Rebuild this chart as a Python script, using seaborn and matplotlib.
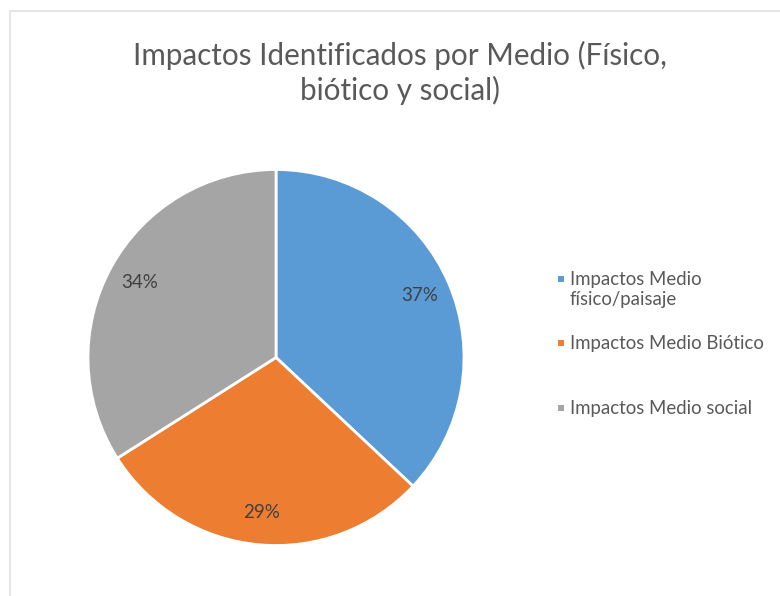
import matplotlib
matplotlib.use("Agg")
import matplotlib.pyplot as plt
from matplotlib.lines import Line2D
from matplotlib.patches import Rectangle
import seaborn as sns

# Data
categories = ["Impactos Medio\nfísico/paisaje", "Impactos Medio Biótico", "Impactos Medio social"]
shares = [37, 29, 34]
colors = ["#5B9BD5", "#ED7D31", "#A5A5A5"]
title = "Impactos Identificados por Medio (Físico,\nbiótico y social)"

sns.set_theme(style="white")
plt.rcParams["font.family"] = ["Lato", "DejaVu Sans"]

W, H = 780, 596
fig = plt.figure(figsize=(W / 100, H / 100), dpi=100)
fig.patch.set_facecolor("white")

# Pie area: centre (276, 357.5) px, radius 188 px
cx, cy, r = 276, 357.5, 188
ax = fig.add_axes([(cx - r) / W, (H - cy - r) / H, 2 * r / W, 2 * r / H])
wedges, _, autotexts = ax.pie(
    shares,
    colors=colors,
    startangle=90,
    counterclock=False,
    autopct=lambda p: f"{p:.0f}%",
    pctdistance=0.83,
    wedgeprops=dict(edgecolor="white", linewidth=2),
    textprops=dict(color="#404040", fontsize=13.5),
)
ax.set_xlim(-1, 1)
ax.set_ylim(-1, 1)
ax.set_aspect("equal")
ax.axis("off")

# Title
fig.text(400 / W, 1 - 73 / H, title, ha="center", va="center",
         fontsize=21.3, color="#595959", linespacing=1.22)

# Legend
legend_y = [279, 343, 408]
for lab, col, y in zip(categories, colors, legend_y):
    fig.add_artist(Rectangle(((561 - 3) / W, 1 - (y + 3) / H), 6 / W, 6 / H,
                             transform=fig.transFigure, facecolor=col,
                             edgecolor="none"))
    fig.text(570 / W, 1 - (y - 8) / H, lab, ha="left", va="top",
             fontsize=13.4, color="#595959", linespacing=1.25)

# Chart-area border (top and left edges)
border = "#e3e3e3"
fig.add_artist(Line2D([10 / W, 1], [1 - 11 / H, 1 - 11 / H],
                      transform=fig.transFigure, color=border, lw=1.3))
fig.add_artist(Line2D([10 / W, 10 / W], [0, 1 - 11 / H],
                      transform=fig.transFigure, color=border, lw=1.3))

fig.savefig("out.png", dpi=100, facecolor="white")
